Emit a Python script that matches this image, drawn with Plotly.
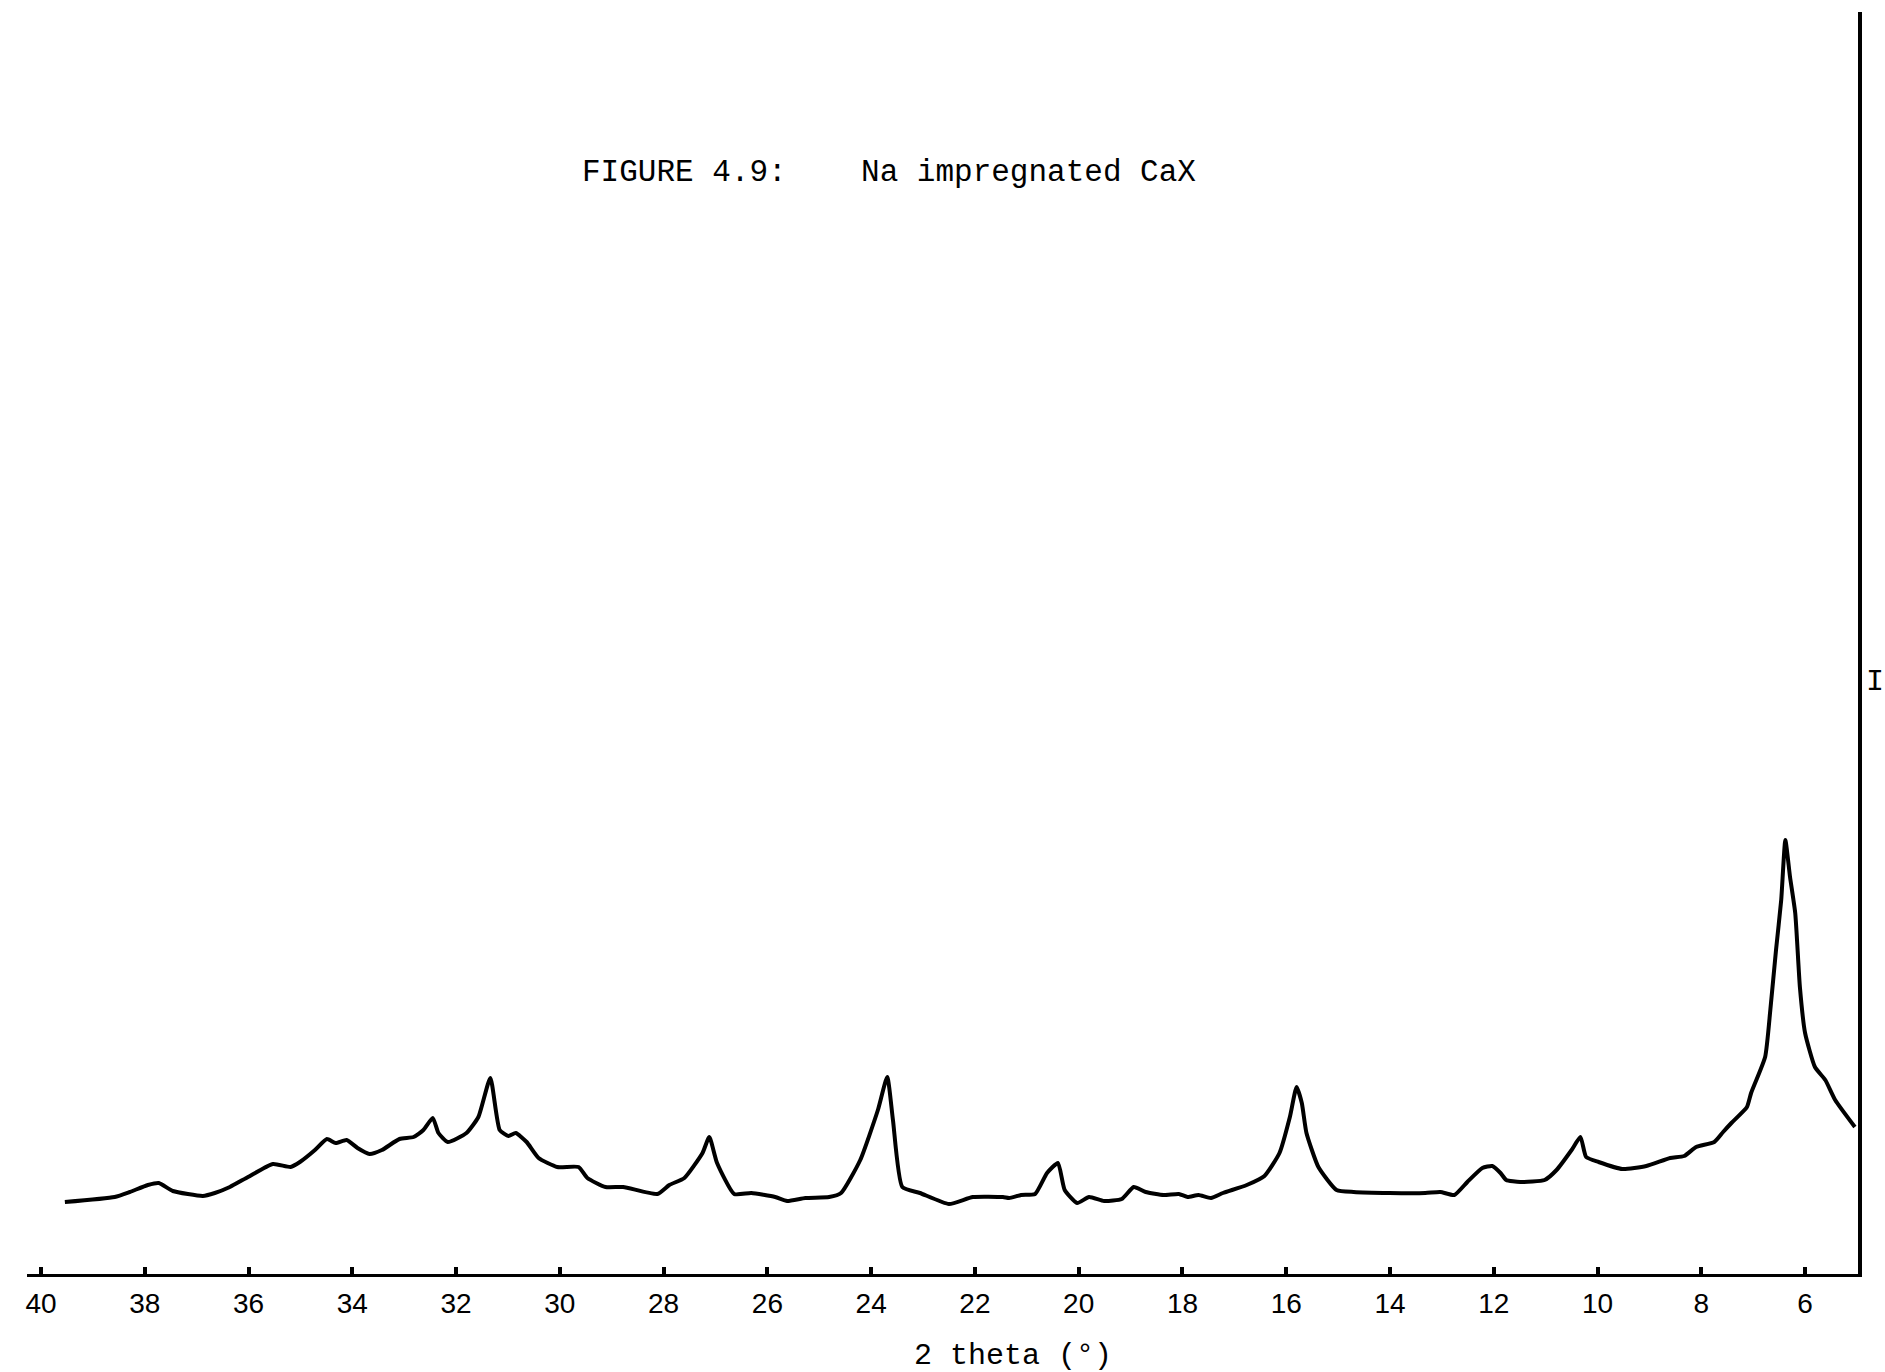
import plotly.graph_objects as go

# XRD pattern: 2 theta (deg) and intensity (arbitrary units)
two_theta = [39.54, 38.58, 38.29, 37.94, 37.73, 37.46, 36.88, 36.65, 36.36, 36.01,
             35.53, 35.19, 35.01, 34.72, 34.49, 34.32, 34.11, 33.90, 33.67, 33.43,
             33.09, 32.82, 32.63, 32.45, 32.34, 32.16, 31.80, 31.57, 31.34, 31.16,
             30.99, 30.85, 30.64, 30.41, 30.05, 29.64, 29.47, 29.12, 28.78, 28.12,
             27.89, 27.60, 27.25, 27.12, 26.97, 26.64, 26.31, 25.85, 25.62, 25.27,
             24.81, 24.58, 24.21, 23.87, 23.69, 23.58, 23.40, 23.06, 22.50, 22.04,
             21.46, 21.34, 21.11, 20.84, 20.61, 20.40, 20.27, 20.03, 19.80, 19.51,
             19.17, 18.94, 18.71, 18.36, 18.07, 17.90, 17.69, 17.45, 17.22, 16.76,
             16.42, 16.13, 15.93, 15.80, 15.70, 15.61, 15.38, 15.03, 14.70, 14.01,
             13.32, 13.03, 12.76, 12.51, 12.22, 12.03, 11.87, 11.76, 11.49, 11.02,
             10.79, 10.50, 10.33, 10.22, 9.98, 9.52, 9.06, 8.60, 8.33, 8.10,
             7.75, 7.58, 7.42, 7.12, 7.04, 6.77, 6.67, 6.56, 6.46, 6.38,
             6.29, 6.19, 6.10, 6.00, 5.81, 5.61, 5.42, 5.04]
intensity = [72, 77, 82, 89, 91, 83, 78, 81, 87, 97,
             110, 107, 112, 124, 135, 131, 134, 126, 120, 124,
             135, 137, 144, 156, 141, 132, 141, 157, 196, 144,
             138, 141, 132, 116, 107, 107, 96, 87, 87, 80,
             89, 96, 121, 137, 111, 80, 81, 77, 73, 76,
             77, 81, 114, 164, 197, 154, 87, 81, 70, 77,
             77, 76, 79, 80, 101, 111, 84, 71, 77, 73,
             75, 87, 82, 79, 80, 77, 79, 76, 81, 89,
             98, 121, 157, 187, 171, 141, 107, 84, 82, 81,
             81, 82, 79, 92, 106, 108, 101, 94, 92, 94,
             104, 124, 137, 117, 112, 105, 108, 116, 118, 127,
             132, 142, 151, 167, 181, 217, 264, 324, 374, 434,
             397, 361, 287, 241, 207, 194, 174, 147]

tick_vals = [40, 38, 36, 34, 32, 30, 28, 26, 24, 22, 20, 18, 16, 14, 12, 10, 8, 6]
tick_text = [str(v) for v in tick_vals]

fig = go.Figure()
fig.add_trace(go.Scatter(
    x=two_theta, y=intensity, mode="lines",
    line=dict(color="black", width=4, shape="spline", smoothing=0.5),
    hoverinfo="skip", showlegend=False,
))

fig.update_layout(
    width=1885, height=1372,
    margin=dict(l=27, r=27, t=12, b=98),
    paper_bgcolor="white", plot_bgcolor="white",
    showlegend=False,
    xaxis=dict(
        range=[40.27, 4.98], autorange=False,
        tickvals=tick_vals, ticktext=tick_text,
        ticks="inside", ticklen=7, tickwidth=4, tickcolor="black",
        showline=True, linecolor="black", linewidth=3,
        showgrid=False, zeroline=False,
        tickfont=dict(family="Liberation Sans Narrow, Arial Narrow, Liberation Sans, sans-serif",
                      size=28, color="black"),
        ticklabelstandoff=2,
    ),
    yaxis=dict(
        range=[0, 1262], autorange=False, side="right",
        showline=True, linecolor="black", linewidth=4,
        showticklabels=False, ticks="", showgrid=False, zeroline=False,
    ),
    annotations=[
        dict(text="FIGURE 4.9:    Na impregnated CaX", xref="paper", yref="paper",
             x=0.471, y=0.873, xanchor="center", yanchor="middle", showarrow=False,
             font=dict(family="Liberation Mono, Courier New, monospace", size=31, color="black")),
        dict(text="2 theta (°)", xref="paper", yref="paper",
             x=0.5385, y=-0.065, xanchor="center", yanchor="middle", showarrow=False,
             font=dict(family="Liberation Mono, Courier New, monospace", size=30, color="black")),
        dict(text="I", xref="paper", yref="paper",
             x=1.0093, y=0.469, xanchor="center", yanchor="middle", showarrow=False,
             font=dict(family="Liberation Mono, Courier New, monospace", size=30, color="black")),
    ],
)

fig.write_html("out.html")
